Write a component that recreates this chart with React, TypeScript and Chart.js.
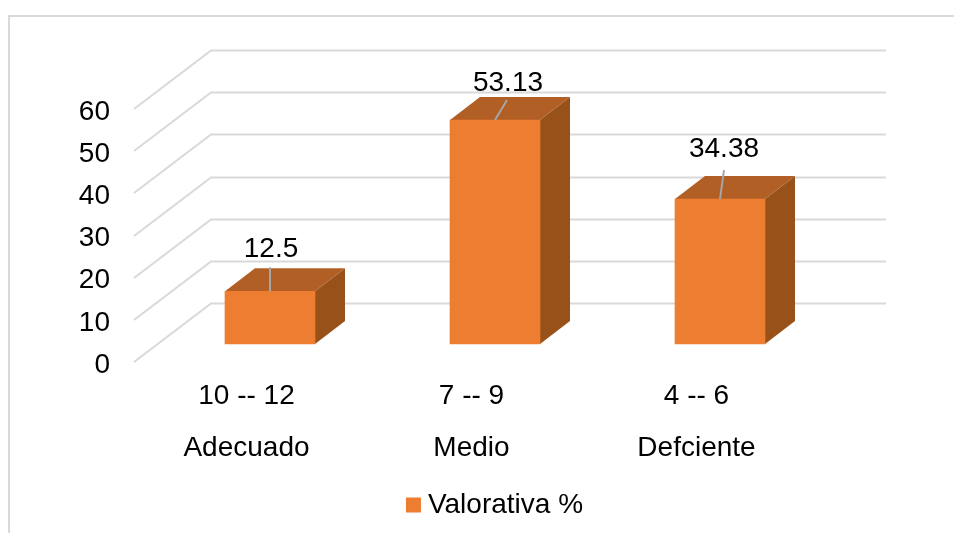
import React, { useEffect, useRef } from "react";
import { Chart, registerables } from "chart.js";

Chart.register(...registerables);

const categories: string[][] = [
  ["10 -- 12", "Adecuado"],
  ["7 -- 9", "Medio"],
  ["4 -- 6", "Defciente"],
];
const seriesName = "Valorativa %";
const values = [12.5, 53.13, 34.38];
const valueLabels = ["12.5", "53.13", "34.38"];

const FONT = "'Liberation Sans', Arial, sans-serif";
const FONT_SIZE = 28;
const FRONT = "#ED7D31";
const TOP = "#B25F25";
const SIDE = "#985119";
const GRID = "#D9D9D9";
const LEADER = "#A6A6A6";
const BAR_SHIFT = { x: 23.5, y: -18 };
const BAR_DEPTH = { x: 30, y: -23 };
const WALL_DEPTH = { x: 77, y: -58.5 };
const labelOffsets = [
  { x: 1, y: -42 },
  { x: 13, y: -37 },
  { x: 4, y: -50 },
];
const leaderEnds = [
  { x: 0, y: -24 },
  { x: 12, y: -20 },
  { x: 4, y: -29 },
];

const scene3d = {
  id: "scene3d",
  afterLayout(chart: any) {
    const lg = chart.legend;
    lg.left = 42;
    lg.right = 954;
    lg.top = 481;
  },
  beforeDraw(chart: any) {
    const { ctx, width, height } = chart;
    ctx.save();
    ctx.fillStyle = "#FFFFFF";
    ctx.fillRect(0, 0, width, height);
    ctx.strokeStyle = GRID;
    ctx.lineWidth = 2;
    ctx.beginPath();
    ctx.moveTo(9, height);
    ctx.lineTo(9, 16);
    ctx.lineTo(width, 16);
    ctx.stroke();
    ctx.restore();
  },
  beforeDatasetsDraw(chart: any) {
    const { ctx, chartArea } = chart;
    const y = chart.scales.y;
    ctx.save();
    ctx.strokeStyle = GRID;
    ctx.lineWidth = 2;
    y.ticks.forEach((t: any) => {
      const py = Math.round(y.getPixelForValue(t.value));
      ctx.beginPath();
      ctx.moveTo(chartArea.left, py);
      ctx.lineTo(chartArea.left + WALL_DEPTH.x, py + WALL_DEPTH.y);
      ctx.lineTo(chartArea.right + WALL_DEPTH.x, py + WALL_DEPTH.y);
      ctx.stroke();
    });
    ctx.restore();

    ctx.save();
    ctx.translate(BAR_SHIFT.x, BAR_SHIFT.y);
    chart.getDatasetMeta(0).data.forEach((bar: any) => {
      const l = bar.x - bar.width / 2;
      const r = bar.x + bar.width / 2;
      ctx.fillStyle = SIDE;
      ctx.beginPath();
      ctx.moveTo(r, bar.y);
      ctx.lineTo(r + BAR_DEPTH.x, bar.y + BAR_DEPTH.y);
      ctx.lineTo(r + BAR_DEPTH.x, bar.base + BAR_DEPTH.y);
      ctx.lineTo(r, bar.base);
      ctx.closePath();
      ctx.fill();
      ctx.fillStyle = TOP;
      ctx.beginPath();
      ctx.moveTo(l, bar.y);
      ctx.lineTo(l + BAR_DEPTH.x, bar.y + BAR_DEPTH.y);
      ctx.lineTo(r + BAR_DEPTH.x, bar.y + BAR_DEPTH.y);
      ctx.lineTo(r, bar.y);
      ctx.closePath();
      ctx.fill();
    });
  },
  afterDatasetsDraw(chart: any) {
    const { ctx } = chart;
    ctx.restore();
    ctx.save();
    ctx.font = `${FONT_SIZE}px ${FONT}`;
    ctx.textAlign = "center";
    ctx.textBaseline = "middle";
    chart.getDatasetMeta(0).data.forEach((bar: any, i: number) => {
      const cx = bar.x + BAR_SHIFT.x;
      const cy = bar.y + BAR_SHIFT.y;
      ctx.strokeStyle = LEADER;
      ctx.lineWidth = 2;
      ctx.beginPath();
      ctx.moveTo(cx, cy);
      ctx.lineTo(cx + leaderEnds[i].x, cy + leaderEnds[i].y);
      ctx.stroke();
      ctx.fillStyle = "#000000";
      ctx.fillText(valueLabels[i], cx + labelOffsets[i].x, cy + labelOffsets[i].y);
    });
    ctx.restore();
  },
};

export default function App() {
  const ref = useRef<HTMLCanvasElement | null>(null);
  useEffect(() => {
    const chart = new Chart(ref.current as HTMLCanvasElement, {
      type: "bar",
      data: {
        labels: categories,
        datasets: [
          {
            label: seriesName,
            data: values,
            backgroundColor: FRONT,
            barThickness: 90,
            borderWidth: 0,
            clip: false,
          } as any,
        ],
      },
      options: {
        responsive: false,
        animation: false,
        layout: { padding: { left: 0, right: 145, top: 109, bottom: 0 } },
        scales: {
          x: {
            grid: { display: false, drawTicks: false },
            border: { display: false },
            ticks: {
              color: "#000000",
              font: { family: FONT, size: FONT_SIZE, lineHeight: 1.857 },
              padding: 8,
              maxRotation: 0,
              autoSkip: false,
            },
            afterFit: (s: any) => {
              s.height = 123;
            },
          },
          y: {
            min: 0,
            max: 60,
            grid: { display: false, drawTicks: false },
            border: { display: false },
            ticks: {
              stepSize: 10,
              color: "#000000",
              font: { family: FONT, size: FONT_SIZE },
              padding: 24,
              labelOffset: 3,
            },
            afterFit: (s: any) => {
              s.width = 134;
            },
          },
        },
        plugins: {
          title: { display: false },
          tooltip: { enabled: false },
          legend: {
            position: "bottom",
            labels: {
              color: "#000000",
              font: { family: FONT, size: FONT_SIZE },
              boxWidth: 1,
              boxHeight: 1,
              padding: 10,
              generateLabels: () => [
                {
                  text: seriesName,
                  fillStyle: FRONT,
                  strokeStyle: FRONT,
                  lineWidth: 14,
                  hidden: false,
                  datasetIndex: 0,
                },
              ],
            },
          },
        },
      },
      plugins: [scene3d],
    } as any);
    return () => chart.destroy();
  }, []);
  return (
    <canvas
      ref={ref}
      width={954}
      height={533}
      style={{ position: "absolute", left: 0, top: 0, display: "block", width: 954, height: 533 }}
    />
  );
}
